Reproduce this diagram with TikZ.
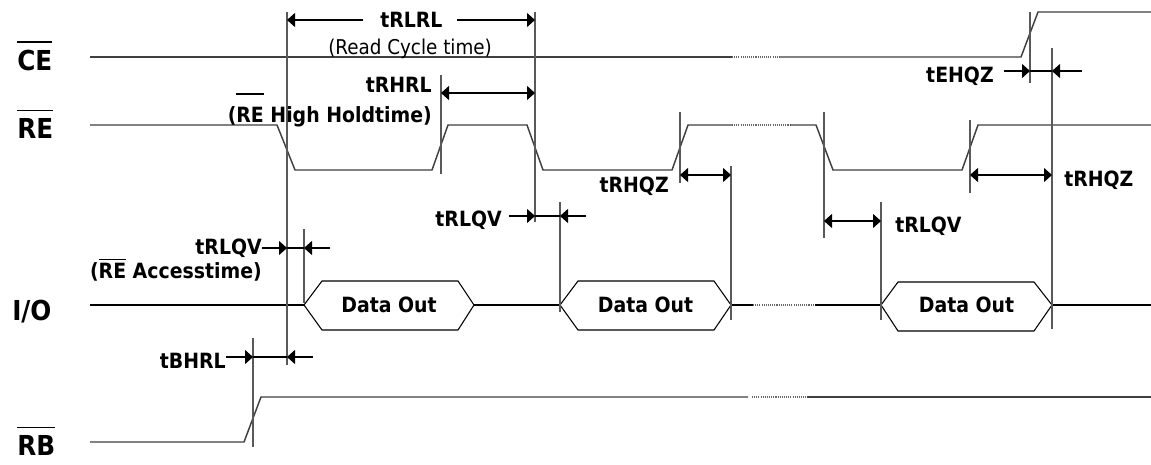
\documentclass[tikz,border=0pt]{standalone}
\usepackage{fontspec}
\setmainfont{DejaVuSansCondensed.ttf}[BoldFont=DejaVuSansCondensed-Bold.ttf]
\usetikzlibrary{arrows.meta}
\newcommand\ovl[2]{\vbox{\hrule height 1.1pt\kern #1\hbox{#2}}}
\tikzset{
  sig/.style={draw=black!75, line width=1.1pt},
  dots/.style={draw=black!60, line width=0.8pt, dash pattern=on 0.8pt off 0.8pt},
  hexa/.style={draw=black, line width=0.8pt},
  vline/.style={draw=black!65, line width=0.8pt},
  dim/.style={draw=black, line width=0.8pt},
  tip/.style={-{Triangle[length=6pt,width=10.5pt]}},
  dbl/.style={{Triangle[length=6pt,width=10.5pt]}-{Triangle[length=6pt,width=10.5pt]}},
  lab/.style={inner sep=0pt, font=\fontsize{15.75pt}{18pt}\selectfont\bfseries},
  big/.style={inner sep=0pt, font=\fontsize{20.6pt}{24pt}\selectfont\bfseries},
  small/.style={inner sep=0pt, font=\fontsize{15.3pt}{18pt}\selectfont},
}
\begin{document}
\begin{tikzpicture}[x=0.75pt,y=-0.75pt]
\useasboundingbox (0,0) rectangle (1151,464);
\fill[white] (0,0) rectangle (1151,464);

% signal names
\node[big,anchor=base west] (nce) at (17,70) {\ovl{5.25pt}{CE}};
\node[big,anchor=base west] (nre) at (17,138) {\ovl{5.25pt}{RE}};
\node[big,anchor=base west] (nio) at (12,320) {I/O};
\node[big,anchor=base west] (nrb) at (17,455) {\ovl{5.25pt}{RB}};

% CE
\draw[sig] (90,57) -- (732,57);
\draw[dots] (732,57) -- (780,57);
\draw[sig] (780,57) -- (1021,57) -- (1038,12) -- (1151,12);
% RE
\draw[sig] (90,125) -- (277,125) -- (295,170) -- (432,170) -- (448,125) -- (527,125) -- (543,170) -- (672,170) -- (688,125) -- (732,125);
\draw[dots] (732,125) -- (790,125);
\draw[sig] (790,125) -- (816,125) -- (833,170) -- (962,170) -- (978,125) -- (1151,125);
% I/O
\draw[hexa] (90,305) -- (304,305);
\draw[hexa] (304,305) -- (322,281) -- (458,281) -- (474,305) -- (458,330) -- (322,330) -- cycle;
\draw[hexa] (474,305) -- (560,305);
\draw[hexa] (560,305) -- (578,281) -- (714,281) -- (731,305) -- (714,330) -- (578,330) -- cycle;
\draw[hexa] (731,305) -- (753,305);
\draw[dots] (753,305) -- (815,305);
\draw[hexa] (815,305) -- (881,305);
\draw[hexa] (881,305) -- (898,282) -- (1034,282) -- (1052,305) -- (1034,331) -- (898,331) -- cycle;
\draw[hexa] (1052,305) -- (1151,305);
\node[lab,anchor=base] (d1) at (389,312) {Data Out};
\node[lab,anchor=base] (d2) at (645.5,312) {Data Out};
\node[lab,anchor=base] (d3) at (966.5,312) {Data Out};
% RB
\draw[sig] (90,442) -- (244,442) -- (261,397) -- (748,397);
\draw[dots] (752,397) -- (807,397);
\draw[sig] (807,397) -- (1151,397);

% vertical reference lines
\draw[vline] (287,12) -- (287,365);
\draw[vline] (535,12) -- (535,222);
\draw[vline] (441,75) -- (441,174);
\draw[vline] (304,229) -- (304,303);
\draw[vline] (560,202) -- (560,312);
\draw[vline] (680,112) -- (680,183);
\draw[vline] (731,166) -- (731,320);
\draw[vline] (824,112) -- (824,238);
\draw[vline] (881,202) -- (881,320);
\draw[vline] (970,120) -- (970,193);
\draw[vline] (1052,48) -- (1052,329);
\draw[vline] (1030,12) -- (1030,83);
\draw[vline] (253,338) -- (253,447);

% tRLRL
\node[lab,anchor=base west] (trlrl) at (380,27) {tRLRL};
\node[small,anchor=base west] (rct) at (328,54) {(Read Cycle time)};
\coordinate (a1s) at (363,20); \coordinate (a1e) at (287,20);
\coordinate (a2s) at (457,20); \coordinate (a2e) at (535,20);
\draw[dim,tip] (a1s) -- (a1e);
\draw[dim,tip] (a2s) -- (a2e);
% tRHRL
\node[lab,anchor=base east] (trhrl) at (432,92) {tRHRL};
\node[lab,anchor=base east] (rehh) at (432,122) {(\ovl{9pt}{RE} High Holdtime)};
\coordinate (b1) at (441,93); \coordinate (b2) at (535,93);
\draw[dim,dbl] (b1) -- (b2);
% tRLQV 1
\node[lab,anchor=base east] (trlqv1) at (262,254) {tRLQV};
\node[lab,anchor=base east] (reac) at (262,278) {(\ovl{2pt}{RE} Accesstime)};
\coordinate (c1) at (262,248); \coordinate (c2) at (287,248);
\coordinate (c3) at (304,248); \coordinate (c4) at (330,248);
\draw[dim,tip] (c1) -- (c2);
\draw[dim] (c2) -- (c3);
\draw[dim,tip] (c4) -- (c3);
% tRLQV 2
\node[lab,anchor=base east] (trlqv2) at (502,226) {tRLQV};
\coordinate (e1) at (509,216); \coordinate (e2) at (535,216);
\coordinate (e3) at (560,216); \coordinate (e4) at (586,216);
\draw[dim,tip] (e1) -- (e2);
\draw[dim] (e2) -- (e3);
\draw[dim,tip] (e4) -- (e3);
% tRHQZ 1
\node[lab,anchor=base east] (trhqz1) at (669,192) {tRHQZ};
\coordinate (f1) at (680,175); \coordinate (f2) at (731,175);
\draw[dim,dbl] (f1) -- (f2);
% tRLQV 3
\node[lab,anchor=base west] (trlqv3) at (895,232) {tRLQV};
\coordinate (g1) at (824,221); \coordinate (g2) at (881,221);
\draw[dim,dbl] (g1) -- (g2);
% tRHQZ 2
\node[lab,anchor=base west] (trhqz2) at (1064,186) {tRHQZ};
\coordinate (h1) at (970,175); \coordinate (h2) at (1052,175);
\draw[dim,dbl] (h1) -- (h2);
% tEHQZ
\node[lab,anchor=base east] (tehqz) at (994,82) {tEHQZ};
\coordinate (k1) at (1004,71); \coordinate (k2) at (1030,71);
\coordinate (k3) at (1052,71); \coordinate (k4) at (1082,71);
\draw[dim,tip] (k1) -- (k2);
\draw[dim] (k2) -- (k3);
\draw[dim,tip] (k4) -- (k3);
% tBHRL
\node[lab,anchor=base east] (tbhrl) at (226,368) {tBHRL};
\coordinate (m1) at (226,357); \coordinate (m2) at (253,357);
\coordinate (m3) at (287,357); \coordinate (m4) at (313,357);
\draw[dim,tip] (m1) -- (m2);
\draw[dim] (m2) -- (m3);
\draw[dim,tip] (m4) -- (m3);
\end{tikzpicture}
\end{document}
